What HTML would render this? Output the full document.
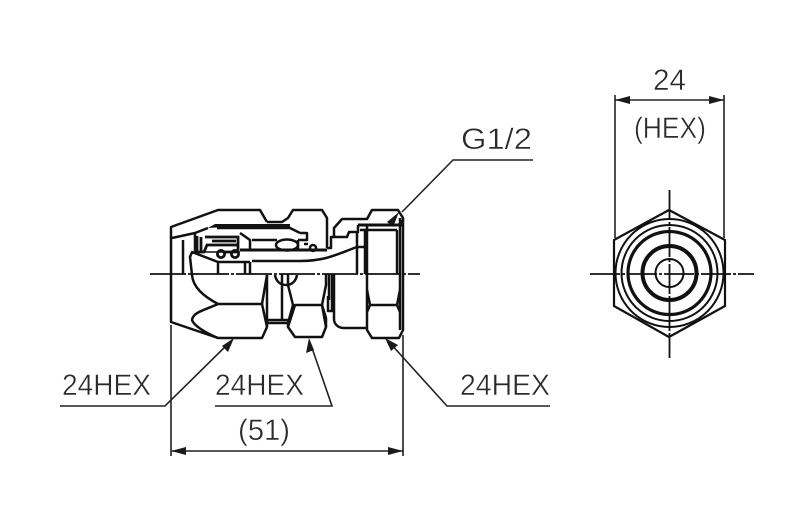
<!DOCTYPE html>
<html>
<head>
<meta charset="utf-8">
<style>
html,body{margin:0;padding:0;background:#fff;width:800px;height:506px;overflow:hidden}
svg{display:block}
text{font-family:"Liberation Sans",sans-serif;font-size:30px;fill:#2a2a2a;stroke:#fff;stroke-width:.45}
</style>
</head>
<body>
<svg width="800" height="506" viewBox="0 0 800 506" xmlns="http://www.w3.org/2000/svg">
<rect width="800" height="506" fill="#fff"/>

<!-- Text -->
<text x="62" y="395" textLength="89" lengthAdjust="spacingAndGlyphs">24HEX</text>
<text x="215" y="395" textLength="89" lengthAdjust="spacingAndGlyphs">24HEX</text>
<text x="460" y="395" textLength="90" lengthAdjust="spacingAndGlyphs">24HEX</text>
<text x="238" y="440" textLength="52" lengthAdjust="spacingAndGlyphs">(51)</text>
<text x="653" y="90" textLength="33" lengthAdjust="spacingAndGlyphs">24</text>
<text x="634" y="138" textLength="72" lengthAdjust="spacingAndGlyphs">(HEX)</text>
<text x="461" y="149" textLength="71" lengthAdjust="spacingAndGlyphs">G1/2</text>

<!-- Dimensions and leaders -->
<g fill="none" stroke="#222" stroke-width="1.6">
  <path d="M171 325V456M403 335V456"/>
  <path d="M171 451H403"/>
  <path d="M615 95V238M724 95V238M615 100H724"/>
  <path d="M533 160H453L402 212"/>
  <path d="M60 406H165L231 341"/>
  <path d="M215 406H332L311 345"/>
  <path d="M550 406H447L390 343"/>
</g>
<g fill="#1a1a1a">
  <path d="M171 451L186 447V455Z"/>
  <path d="M403 451L388 447V455Z"/>
  <path d="M615 100L630 96V104Z"/>
  <path d="M724 100L709 96V104Z"/>
  <path d="M234 338L222 346L228 352Z"/>
  <path d="M309 338L306 353L314 350Z"/>
  <path d="M385 338L391 351L398 345Z"/>
  <path d="M399 212L387 222L393 227Z"/>
</g>

<!-- Fitting outline -->
<g fill="none" stroke="#111" stroke-width="2.5" stroke-linejoin="round">
  <!-- Left nut -->
  <path d="M267 222L260 210H218L171 227V322L218 338H262L267 327"/>
  <path d="M172 238L195 233L208 228"/>
  <path d="M183 240V274M195 233V253"/>
  <path d="M218 304H262L267 275"/>
  <path d="M262 304L267 327V320"/>
  <path d="M218 304C205 310 193 312 192 320C194 326 206 333 218 338"/>
  <path d="M218 304C203 296 193 287 192 275L190 257L192 252L218 262H250"/>
  <path d="M218 262V274M245 262V274M250 262V274"/>
  <path d="M240 233L250 240V250"/>
  <path d="M252 240H277"/>

  <!-- Sleeve -->
  <path d="M240 250H327" stroke-width="3"/>
  <path d="M252 261H300C325 261 335 255 357 247"/>
  <path d="M217 228H290L300 233"/>
  <path d="M300 233H307V240H298"/>
  <ellipse cx="287" cy="245" rx="11" ry="5.5"/>
  <path d="M298 240V250M304 244H308"/>
  <circle cx="313" cy="248" r="3"/>
  <path d="M306 250H327"/>

  <!-- Middle nut -->
  <path d="M267 222H282L288 218L293 210H322L327 218V248"/>
  <path d="M288 327L295 337H322L326 327L322 305H295Z"/>
  <path d="M288 327V323L293 305L288 285V274"/>
  <path d="M282 274V320"/>
  <path d="M267 320H288M267 323H288"/>
  <path d="M267 275V320"/>
  <path d="M275 275C276 281 280 285 286 285C292 285 296 281 297 275"/>
  <path d="M322 305L326 285V274M322 305L326 318V327"/>
  <path d="M329 274V300M332 274V311H328V296"/>

  <!-- Right nut -->
  <path d="M327 248H331V237H347L349 232H358V225"/>
  <path d="M334 237V228L342 219H367L372 210H398L403 218V330L399 338H372L367 330V225"/>
  <path d="M358 225H403" stroke-width="3"/>
  <path d="M360 230H397"/>
  <path d="M357 232V274M365 230V274M397 230V274M400 218V330"/>
  <path d="M357 247H365"/>
  <path d="M334 274V319C334 324 338 328 344 328H367"/>
  <path d="M367 290L370 305H397L400 290M370 305L367 312M397 305L400 312"/>
</g>

<!-- Thick band on top -->
<path d="M208 228L215 224H290V227.5H217Z" fill="#111"/>
<path d="M397 225L403 218V226Z" fill="#111"/>

<!-- Seal detail -->
<g fill="none" stroke="#111" stroke-width="2.8">
  <path d="M197 236V252H204L207 245H238M205 237H238V252H224"/>
  <path d="M201 237V252M212 241H236"/>
  <circle cx="221" cy="254" r="3.6"/>
  <circle cx="235" cy="254" r="3.6"/>
</g>
<path d="M195 252H240" stroke="#111" stroke-width="1.6"/>

<!-- Centre line, left view -->
<path d="M150 274H420" fill="none" stroke="#111" stroke-width="1.8" stroke-dasharray="36 2 3 2"/>

<!-- End view -->
<g fill="none" stroke="#111" stroke-linejoin="round">
  <path d="M669 210L725 240V306L669 337L614 306V240Z" stroke-width="2.2"/>
  <circle cx="669.5" cy="273" r="54" stroke-width="2"/>
  <circle cx="669.5" cy="273" r="48" stroke-width="2"/>
  <circle cx="669.5" cy="273" r="41.5" stroke-width="3.2"/>
  <circle cx="669.5" cy="273" r="27" stroke-width="4"/>
  <circle cx="669.5" cy="273" r="14" stroke-width="2"/>
  <path d="M590 274H754M669.5 190V358" stroke-width="1.8" stroke-dasharray="30 2 3 2"/>
</g>
</svg>
</body>
</html>
